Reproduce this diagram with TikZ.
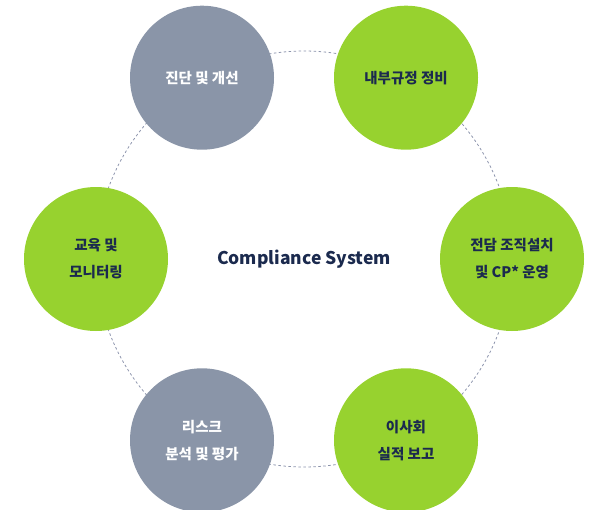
\documentclass[tikz,border=0pt]{standalone}
\usepackage{fontspec}
\setmainfont{Noto Sans CJK KR}[BoldFont={Noto Sans CJK KR Black}]
\definecolor{cgray}{HTML}{8A95A8}
\definecolor{cgreen}{HTML}{97D22F}
\definecolor{navy}{HTML}{1B2A4E}
\definecolor{ringc}{HTML}{8C94AC}
\tikzset{
  bub/.style={circle, minimum size=144pt, inner sep=0pt, align=center, font=\fontsize{14.5}{27}\selectfont\bfseries},
  graybub/.style={bub, fill=cgray, text=white},
  greenbub/.style={bub, fill=cgreen, text=navy},
  ring/.style={draw=ringc, line width=0.8pt, dash pattern=on 2.5pt off 2.5pt},
}
\begin{document}
\begin{tikzpicture}[x=1pt,y=-1pt]
\useasboundingbox (0,0) rectangle (597,509);
\coordinate (c) at (304,259);
\draw[ring] (c) circle (208);
\node[graybub] (n1) at (202,77.7) {진단 및 개선};
\node[greenbub] (n2) at (406,77.7) {내부규정 정비};
\node[greenbub] (n3) at (512,259) {전담 조직설치\\및 CP* 운영};
\node[greenbub] (n4) at (406,440.3) {이사회\\실적 보고};
\node[graybub] (n5) at (202,440.3) {리스크\\분석 및 평가};
\node[greenbub] (n6) at (96,259) {교육 및\\모니터링};
\node[text=navy, font=\fontsize{17.5}{20}\selectfont\bfseries] (t) at (c) {Compliance System};
\end{tikzpicture}
\end{document}
